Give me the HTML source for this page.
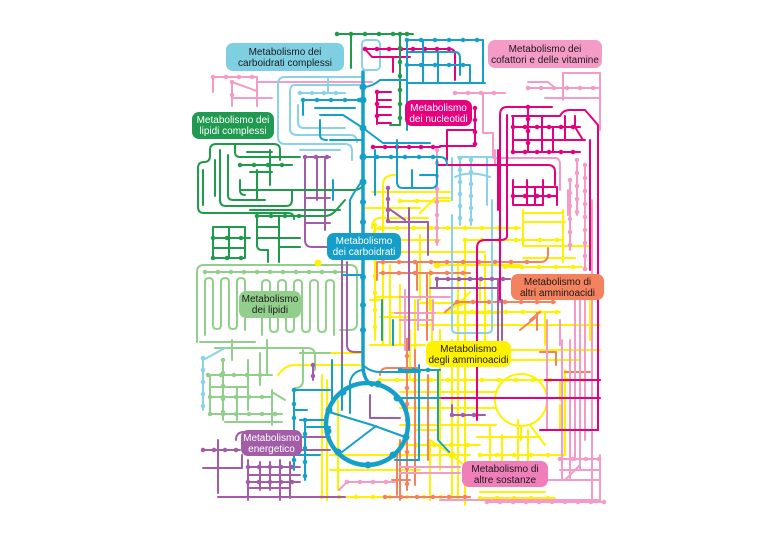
<!DOCTYPE html>
<html><head><meta charset="utf-8">
<style>
html,body{margin:0;padding:0;background:#fff;}
svg{display:block;}
text{font-family:"Liberation Sans",sans-serif;font-size:10px;}
</style></head><body>
<svg width="768" height="543" viewBox="0 0 768 543" xmlns="http://www.w3.org/2000/svg">
<rect width="768" height="543" fill="#fff"/>
<g fill="none" stroke-width="2" stroke-linecap="round" stroke-linejoin="round">

<!-- YELLOW -->
<g stroke="#fff200">
<path d="M380 218 H428 M372 228 Q372 218 380 218 M375 225 V340 M390 265 V345 M400 285 V345 M375 297 H410 M380 317 H410"/>
<path d="M383 185 Q383 175 395 175 M383 185 V345 M373 236 Q373 228 380 228 H520 M437 265 H520 M465 240 H520 M420 303 H470 M390 313 H500 M485 255 V350 M460 303 L448 312 M460 303 L470 292 M415 300 V350 M432 300 V350"/>
<path d="M400 201 H450 M420 213 L435 198 H450 M365 208 H420 M400 252 H485 M400 262 H505 M372 192 H450"/>
<path d="M523 213 H562 M523 222 H565 M523 240 H563 M523 246 H592 M505 267 H582 M523 258 H575 M500 180 V230 M523 210 V246 M563 210 V262"/>
<path d="M465 240 V505 M458 262 V500 M455 312 H560 M420 325 H600 M370 345 H425 M510 350 H600 M510 360 H580"/>
<path d="M380 380 H600 M410 392 H497 M400 408 H496 M400 425 H496 M477 437 H540 M400 445 H480 M330 455 H470 M480 455 H565 M330 470 H420 M480 492 H545 M480 498 H555 M322 497 H460"/>
<path d="M452 340 V500 M490 425 V460 M502 435 V470 M518 420 V460 M528 430 V485 M560 405 V430 M565 370 V455 M322 375 V495 M327 380 V500 M338 470 V490 M440 330 V470 M430 440 V500 M410 330 V380 M545 312 V345 M580 330 V370"/>
<path d="M452 455 L430 440 M452 455 L470 470 M530 425 L545 445 M521 426 V440"/>
<path d="M278 375 Q285 365 295 365 H345 M300 353 H360 M330 365 H360 M415 430 H440 M400 392 H440 M338 400 V480"/>
<path d="M395 240 H440 M420 235 V300 M430 270 V310 M480 280 V300 M540 280 V300 M590 300 V340 M370 300 H380 M560 380 V400"/>
<circle cx="521" cy="400" r="26"/>
</g>
<g stroke="#fff200" stroke-width="4.5" stroke-dasharray="0 17">
<path d="M380 228 H520 M400 201 H450 M523 240 H563 M505 267 H582 M455 312 H560 M380 380 H600 M400 445 H480 M480 455 H565 M480 498 H555 M322 497 H460 M375 225 V340 M465 240 H520"/>
</g>
<circle cx="460" cy="303" r="3.5" fill="#fff200"/>
<circle cx="437" cy="265" r="3.5" fill="#fff200"/>

<!-- SALMON -->
<g stroke="#f4825f">
<path d="M378 262 H540 Q548 262 548 254 V248 M380 273 H470 M377 262 V280 M417 262 V290 M445 312 L457 302 H555 M530 320 L540 312 M537 313 V330 M520 330 L535 318"/>
<path d="M407 340 V490 M415 350 V485 M397 455 V495 M385 497 H470 M380 375 Q380 368 388 368 H418 M428 375 V460 M565 372 H590 M540 352 H556 V365 M427 273 V340"/>
<path d="M392 480 H410 M400 440 V500"/>
</g>
<g stroke="#f4825f" stroke-width="4.5" stroke-dasharray="0 16">
<path d="M383 262 H540 M383 273 H470 M457 302 H555 M407 340 V490 M385 497 H470"/>
</g>

<!-- PINK -->
<g stroke="#f59bc7">
<path d="M213 77 H257 M213 77 V92 M232 82 V106 M257 77 V106 M232 82 L257 91 M232 98 H272 M257 82 H372"/>
<path d="M455 93 H505 M483 93 V133 H493 V158 H555 Q560 158 560 165 V190 M568 190 V215 M577 160 V215 M585 165 V270"/>
<path d="M528 82 H548 L555 88 M528 88 H600 M563 73 V100 M563 73 H600 V130 M545 98 H600"/>
<path d="M570 180 V250 M592 200 V500 M580 300 V470 M575 300 V460 M437 150 V245 M495 150 V165"/>
<path d="M560 459 H600 M560 470 H600 M545 480 H600 M487 502 H605 M600 455 V502 M565 480 L580 465 M562 340 V480 M570 340 V480"/>
<path d="M400 297 H450 M418 300 V330 M433 300 V330 M400 320 H433 M547 320 V345 M560 320 V345 M547 340 V430 M405 290 V350 M395 313 H435"/>
<path d="M347 482 H395 M339 490 L347 482 M400 467 H460 M400 473 H460 M440 500 H600 M585 300 V440"/>
</g>
<g stroke="#f59bc7" stroke-width="4.5" stroke-dasharray="0 13">
<path d="M213 77 H257 M232 82 V106 M455 93 H505 M528 88 H600 M570 180 V250 M585 165 V270 M560 459 H600 M487 502 H605 M347 482 H395 M437 150 V245 M577 160 V215"/>
</g>

<!-- LIGHT GREEN -->
<g stroke="#93cf8c">
<path d="M197 342 V272 Q197 265 204 265 H350 Q357 265 357 272 V323 Q357 330 350 330 H340"/>
<path d="M205 272 H345"/>
<path d="M205 335 V282 Q205 278 209 278 Q213 278 213 282 V325 Q213 329 217 329 Q221 329 221 325 V282 Q221 278 225 278 Q229 278 229 282 V325 Q229 329 233 329 Q237 329 237 325 V282 Q237 278 241 278 Q245 278 245 282 V330"/>
<path d="M262 335 V284 Q262 280 266 280 Q270 280 270 284 V328 Q270 332 274 332 Q278 332 278 328 V284 Q278 280 282 280 Q286 280 286 284 V328 Q286 332 290 332 Q294 332 294 328 V284 Q294 280 298 280 Q302 280 302 284 V328 Q302 332 306 332 Q310 332 310 328 V284 Q310 280 314 280 Q318 280 318 284 V328 Q318 332 322 332 Q326 332 326 328 V284 Q326 280 330 280 Q334 280 334 284 V335"/>
<path d="M200 342 H255 M215 348 H307 Q315 348 315 355 V370 M232 340 V360"/>
<path d="M208 375 H272 M210 387 H248 M210 397 H272 M210 414 H282 M225 422 H282 M210 375 V414 M223 360 V420 M237 387 V420 M248 360 V410 M260 353 V385 M272 390 V425 M272 392 L285 400 M267 340 V375"/>
<path d="M303 350 V380 Q303 388 295 388 M300 353 H330"/>
</g>
<g stroke="#93cf8c" stroke-width="4.5" stroke-dasharray="0 13">
<path d="M208 375 H272 M210 397 H272 M210 414 H282 M205 272 H345 M223 360 V420"/>
</g>

<!-- LIGHT BLUE -->
<g stroke="#8ad2e6">
<rect x="362" y="40" width="18" height="30" rx="4"/>
<path d="M363 77 H285 Q278 77 278 84 V137 Q278 144 285 144 H345 Q352 144 352 151 V160"/>
<path d="M360 85 H295 Q290 85 290 92 V128 Q290 135 297 135 H350 Q357 135 357 142"/>
<path d="M300 93 H345 M300 150 H340 M328 77 V93 M298 105 V122 Q298 128 304 128 H345"/>
<path d="M452 158 V200 M460 158 V225 M471 160 V225 M487 158 V205 M458 157 H492 M455 177 Q470 170 490 177"/>
<path d="M452 215 V328 Q452 333 457 333 H487 Q492 333 492 328 V200"/>
<path d="M203 358 V410 M203 360 L225 348"/>
</g>
<g stroke="#8ad2e6" stroke-width="4.5" stroke-dasharray="0 12">
<path d="M300 93 H345 M471 160 V225 M203 358 V410 M460 158 V225"/>
</g>

<!-- PURPLE -->
<g stroke="#a35ca8">
<path d="M305 157 H330 M305 157 V240 Q305 247 312 247 H345 M317 157 V200 M325 157 V230 M305 198 H330 M305 223 H330"/>
<path d="M342 260 V375 M347 262 V345 Q347 352 355 352 H363"/>
<path d="M388 188 V222 H428 V255 M388 208 L405 220 M409 208 V350 M437 279 H510 M430 288 H497 M498 279 V350 M502 300 V340 M437 279 V288"/>
<path d="M452 405 V415 H485 M370 395 V418 H400 M313 365 V380 M300 450 H325"/>
<path d="M203 450 H240 M218 440 V493 M203 468 H242 V455 M248 460 V500 M260 462 V490 M270 462 V490 M280 460 V500 M290 462 V498 M248 467 H300 M248 475 H300 M248 482 H300 M248 488 H290 M218 497 H345 M302 437 H330 M302 450 H330 M236 440 Q236 432 244 432"/>
</g>
<g stroke="#a35ca8" stroke-width="4.5" stroke-dasharray="0 11">
<path d="M305 157 H330 M248 467 H300 M248 482 H300 M203 450 H240 M437 279 H510 M452 415 H485 M313 365 V380 M388 188 V222"/>
</g>

<!-- MAGENTA -->
<g stroke="#e6007e">
<path d="M365 49 H450 Q455 49 455 55 V80 M365 49 L372 57 H410 M393 57 V72"/>
<path d="M377 92 V124 M377 92 H391 M377 100 H391 M377 107 H391 M377 115 H391 M377 123 H391"/>
<path d="M475 108 V145 M448 130 H475 M440 146 H475 M447 130 V160 M373 147 H440"/>
<path d="M437 165 H548 Q555 165 555 172 V185 M498 150 V210"/>
<path d="M500 270 V115 Q500 107 507 107 H552 M507 115 V236 Q507 240 500 240 H485 Q477 240 477 248 V420"/>
<path d="M512 116 H560 Q563 110 570 110 H585 L598 125 V430 M513 127 H580 M513 140 H585 M513 152 H580"/>
<path d="M513 116 V152 M528 107 V152 M542 116 V152 M553 127 V152 M565 116 V140 M575 116 V127 M583 140 L575 127"/>
<path d="M513 187 H557 M513 196 H557 M513 205 H543 M513 180 V205 M527 180 V205 M535 187 V205 M543 180 V205 M557 187 V205 M590 140 V270"/>
<path d="M430 398 H600 M545 380 H600 M540 430 H598 M500 270 V300"/>
</g>
<g stroke="#e6007e" stroke-width="4.5" stroke-dasharray="0 12">
<path d="M365 49 H450 M513 127 H580 M513 152 H580 M513 196 H557 M528 107 V152 M377 92 V124 M475 108 V145 M373 147 H440"/>
</g>

<!-- DARK GREEN -->
<g stroke="#1e9b4b">
<path d="M337 34 H413 M351 34 V68 M400 34 V125 H390"/>
<path d="M280 160 V150 Q280 144 274 144 H216 Q210 144 210 150 V156 Q210 162 204 162 Q198 162 198 168 V207 Q198 213 204 213 H288 Q294 213 294 219"/>
<path d="M220 150 V200 Q220 206 226 206 H286 Q292 206 292 200 V190"/>
<path d="M228 155 V195 Q228 200 233 200 H265 M215 160 V196 M235 145 V152 Q235 157 240 157 H300"/>
<path d="M240 165 H292 M250 172 H272 M240 180 V190 Q240 195 245 195 M247 152 H272 M240 190 H305 M257 170 V200 M270 150 V185 M203 170 V205"/>
<path d="M213 227 H245 M213 238 H250 M213 248 H245 M213 258 H245 M213 227 V258 M229 227 V258 M245 227 V258"/>
<path d="M257 216 V245 Q257 250 262 250 H268 V262 M279 216 V262 M257 216 H310 M257 227 H279 M257 238 H300 M279 247 H300"/>
<path d="M300 216 H325 Q332 216 338 208 L345 200 M250 210 H340 M250 190 H355 Q360 190 363 185"/>
</g>
<g stroke="#1e9b4b" stroke-width="4.5" stroke-dasharray="0 14">
<path d="M337 34 H413 M213 238 H250 M213 258 H245 M257 216 H310 M240 165 H292 M400 34 V125"/>
</g>

<!-- BLUE -->
<g stroke="#14a0c9">
<path d="M407 40 H483 M407 52 H455 M407 65 H470 M407 83 H485 M407 40 V130 M423 40 V83 M438 52 V83 M470 65 V83 M483 40 V83 M455 52 Q460 52 460 58 V75"/>
<path d="M303 100 H362 M303 100 V115 M315 108 H355 M363 128 L343 115 H320 M363 128 L383 143 H430 M330 140 H362 M363 157 H440 Q447 157 447 165 M320 120 V135 Q320 140 327 140 M363 87 Q372 87 380 80 H407"/>
<path d="M397 140 V182 Q397 188 403 188 H431 Q437 188 437 182 V160 M420 175 H437 M412 170 V188 M390 143 H410 M375 150 V195"/>
<path d="M363 180 Q355 190 350 200 V240 M333 180 V200 M363 275 H343 M382 300 V340 M393 320 V345"/>
<path d="M363 365 Q370 372 380 372 H420 M419 365 V460 H395 M332 360 V405 M342 365 V410 M300 420 H327 M305 420 V480 M294 390 V470 M294 390 H330 M294 410 H307 M307 427 H330 M294 437 H305 M294 455 H320"/>
<path d="M400 370 H440 M438 370 V440 L452 455 M400 398 H440 M350 413 V382 Q352 372 362 370"/>
<path d="M329 412 L372 425 L408 438 M376 426 L342 452"/>
</g>
<g stroke="#14a0c9" stroke-width="4.5" stroke-dasharray="0 14">
<path d="M407 40 H483 M407 65 H470 M303 100 H362 M363 157 H440 M294 390 V470 M400 370 H440 M305 420 V480"/>
</g>
<path d="M363 72 V365 Q363 380 372 385" stroke="#14a0c9" stroke-width="3.5"/>
<circle cx="367" cy="424" r="41" stroke="#14a0c9" stroke-width="4.5"/>
</g>
<g fill="#14a0c9">
<circle cx="363" cy="87" r="3.5"/><circle cx="363" cy="100" r="3.5"/><circle cx="363" cy="128" r="3.5"/><circle cx="363" cy="157" r="3.5"/><circle cx="363" cy="182" r="3.5"/><circle cx="363" cy="202" r="3"/><circle cx="363" cy="222" r="3"/><circle cx="363" cy="277" r="3"/><circle cx="363" cy="305" r="3"/><circle cx="363" cy="330" r="3"/>
<circle cx="343" cy="392" r="3.5"/><circle cx="378" cy="384" r="3.5"/><circle cx="397" cy="398" r="3.5"/><circle cx="329" cy="410" r="3.5"/><circle cx="328" cy="431" r="3.5"/><circle cx="406" cy="437" r="3.5"/><circle cx="338" cy="452" r="3.5"/><circle cx="368" cy="465" r="3.5"/><circle cx="393" cy="455" r="3.5"/>
</g>
<circle cx="452" cy="455" r="3.5" fill="#fff200"/>
<circle cx="318" cy="263" r="3.5" fill="#fff200"/>

<!-- LABELS -->
<g>
<rect x="226" y="43" width="118" height="28" rx="7" fill="#7fcfe2"/>
<text x="285" y="55" text-anchor="middle" fill="#1a1a1a">Metabolismo dei</text>
<text x="285" y="66" text-anchor="middle" fill="#1a1a1a">carboidrati complessi</text>

<rect x="488" y="40" width="114" height="28" rx="7" fill="#f59bc7"/>
<text x="545" y="52" text-anchor="middle" fill="#1a1a1a">Metabolismo dei</text>
<text x="545" y="63" text-anchor="middle" fill="#1a1a1a">cofattori e delle vitamine</text>

<rect x="192" y="112" width="82" height="27" rx="7" fill="#1f9a50"/>
<text x="233" y="123" text-anchor="middle" fill="#fff">Metabolismo dei</text>
<text x="233" y="134" text-anchor="middle" fill="#fff">lipidi complessi</text>

<rect x="405" y="100" width="67" height="26" rx="7" fill="#e6007e"/>
<text x="438.5" y="111" text-anchor="middle" fill="#fff">Metabolismo</text>
<text x="438.5" y="122" text-anchor="middle" fill="#fff">dei nucleotidi</text>

<rect x="327" y="233" width="74" height="27" rx="7" fill="#149ec9"/>
<text x="364" y="244" text-anchor="middle" fill="#fff">Metabolismo</text>
<text x="364" y="255" text-anchor="middle" fill="#fff">dei carboidrati</text>

<rect x="239" y="291" width="62" height="27" rx="7" fill="#93cf8c"/>
<text x="270" y="302" text-anchor="middle" fill="#1a1a1a">Metabolismo</text>
<text x="270" y="313" text-anchor="middle" fill="#1a1a1a">dei lipidi</text>

<rect x="511" y="274" width="93" height="26" rx="7" fill="#f4825f"/>
<text x="557.5" y="285" text-anchor="middle" fill="#1a1a1a">Metabolismo di</text>
<text x="557.5" y="296" text-anchor="middle" fill="#1a1a1a">altri amminoacidi</text>

<rect x="426" y="341" width="85" height="26" rx="7" fill="#fff200"/>
<text x="468.5" y="352" text-anchor="middle" fill="#1a1a1a">Metabolismo</text>
<text x="468.5" y="363" text-anchor="middle" fill="#1a1a1a">degli amminoacidi</text>

<rect x="241" y="430" width="61" height="26" rx="7" fill="#a35ca8"/>
<text x="271.5" y="441" text-anchor="middle" fill="#fff">Metabolismo</text>
<text x="271.5" y="452" text-anchor="middle" fill="#fff">energetico</text>

<rect x="462" y="461" width="86" height="26" rx="7" fill="#f07fb9"/>
<text x="505" y="472" text-anchor="middle" fill="#1a1a1a">Metabolismo di</text>
<text x="505" y="483" text-anchor="middle" fill="#1a1a1a">altre sostanze</text>
</g>
</svg>
</body></html>
